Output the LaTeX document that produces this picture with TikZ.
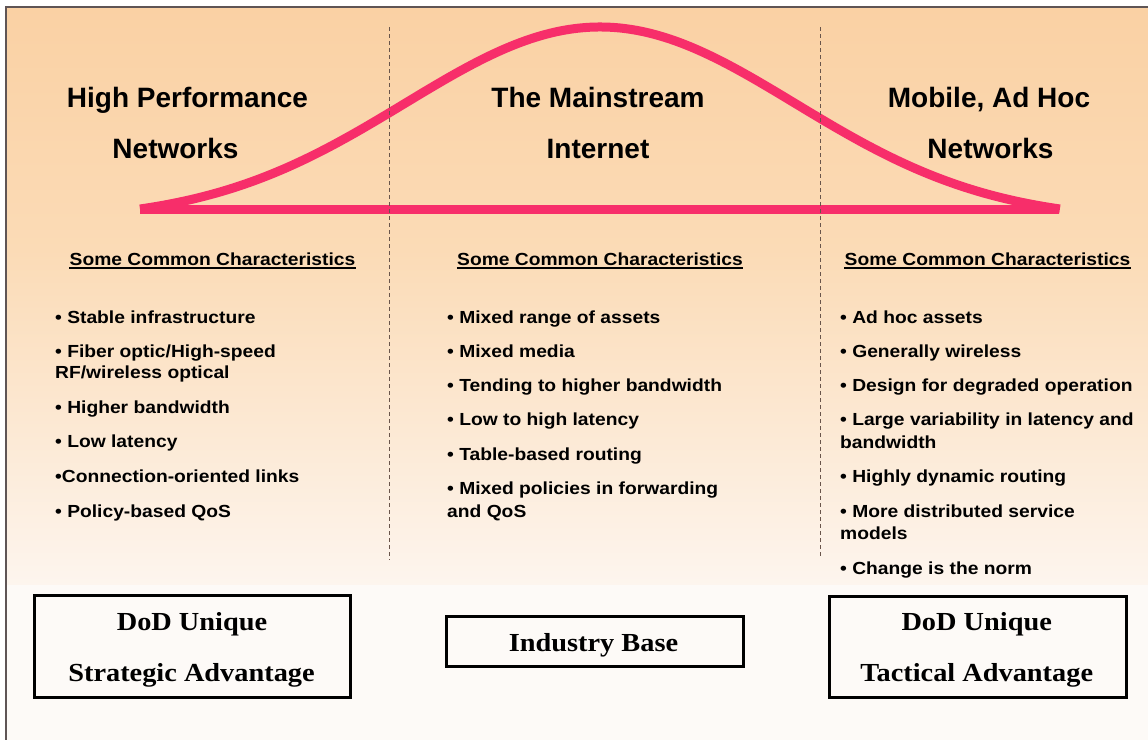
\documentclass[tikz,border=0pt]{standalone}
\usepackage{fontspec}
\setmainfont{Liberation Sans}
\newfontfamily\titlefont{Liberation Sans Bold}
\newfontfamily\bodyfont{Liberation Sans Bold}[FakeStretch=1.1]
\newfontfamily\boxfont{Liberation Serif Bold}[FakeStretch=1.09]
\definecolor{bellred}{RGB}{247,46,106}
\definecolor{bgtop}{RGB}{250,209,164}
\definecolor{bgmid}{RGB}{251,219,182}
\definecolor{bgbot}{RGB}{253,245,238}
\definecolor{bglow}{RGB}{253,250,247}
\definecolor{framec}{RGB}{95,85,85}
\definecolor{dashc}{RGB}{105,85,75}
\begin{document}
\begin{tikzpicture}[x=1pt,y=-1pt,
  titletext/.style={font=\titlefont\fontsize{28}{30}\selectfont, inner sep=0pt, anchor=base},
  headtext/.style={font=\bodyfont\fontsize{17.5}{20}\selectfont, inner sep=0pt, anchor=base},
  itemtext/.style={font=\bodyfont\fontsize{17.5}{20}\selectfont, inner sep=0pt, anchor=base west},
  boxtext/.style={font=\boxfont\fontsize{26}{28}\selectfont, inner sep=0pt, anchor=base},
  boxframe/.style={draw=black, line width=3pt, rectangle, inner sep=0pt},
  bell/.style={draw=bellred, line width=9pt, line cap=butt, line join=round},
  divider/.style={draw=dashc, line width=1pt, dash pattern=on 4pt off 3pt},
  underl/.style={draw=black, line width=1.6pt}
]
\useasboundingbox (0,0) rectangle (1148,740);
\fill[white] (0,0) rectangle (1148,740);
% background
\shade[top color=bgtop, bottom color=bgmid] (6,7) rectangle (1148,250);
\shade[top color=bgmid, bottom color=bgbot] (6,250) rectangle (1148,585);
\fill[bglow] (6,585) rectangle (1148,740);
\draw[framec, line width=2pt] (1148,7) -- (6,7) -- (6,740);

% bell curve
\coordinate (bl) at (140,209);
\coordinate (br) at (1059,209);
\draw[bell] plot[domain=-4.6:4.6, samples=140, smooth] ({600+100*\x},{209-194*(exp(-\x*\x/7.605)-0.0619)});
\draw[bell] (bl) -- (br);

% dividers
\coordinate (d1t) at (389,27);
\coordinate (d1b) at (389,560);
\coordinate (d2t) at (820,27);
\coordinate (d2b) at (820,558);
\draw[divider] (d1t) -- (d1b);
\draw[divider] (d2t) -- (d2b);

% titles
\node[titletext] (t1a) at (187.5,107) {High Performance};
\node[titletext] (t1b) at (175.5,158) {Networks};
\node[titletext] (t2a) at (598,107) {The Mainstream};
\node[titletext] (t2b) at (598,158) {Internet};
\node[titletext] (t3a) at (989,107) {Mobile, Ad Hoc};
\node[titletext] (t3b) at (990.5,158) {Networks};

% headers
\node[headtext] (h1) at (212.5,265) {Some Common Characteristics};
\node[headtext] (h2) at (600,265) {Some Common Characteristics};
\node[headtext] (h3) at (987.5,265) {Some Common Characteristics};
\foreach \h in {h1,h2,h3}{
  \draw[underl] ([yshift=-3pt]\h.base west) -- ([yshift=-3pt]\h.base east);
}

% left column
\node[itemtext] (a1) at (55,323) {• Stable infrastructure};
\node[itemtext] (a2) at (55,357) {• Fiber optic/High-speed};
\node[itemtext] (a2b) at (55,378.5) {RF/wireless optical};
\node[itemtext] (a3) at (55,413) {• Higher bandwidth};
\node[itemtext] (a4) at (55,447) {• Low latency};
\node[itemtext] (a5) at (55,482) {•Connection-oriented links};
\node[itemtext] (a6) at (55,517) {• Policy-based QoS};

% middle column
\node[itemtext] (m1) at (447,323) {• Mixed range of assets};
\node[itemtext] (m2) at (447,357) {• Mixed media};
\node[itemtext] (m3) at (447,391) {• Tending to higher bandwidth};
\node[itemtext] (m4) at (447,425) {• Low to high latency};
\node[itemtext] (m5) at (447,460) {• Table-based routing};
\node[itemtext] (m6) at (447,494) {• Mixed policies in forwarding};
\node[itemtext] (m6b) at (447,517) {and QoS};

% right column
\node[itemtext] (r1) at (840,323) {• Ad hoc assets};
\node[itemtext] (r2) at (840,357) {• Generally wireless};
\node[itemtext] (r3) at (840,391) {• Design for degraded operation};
\node[itemtext] (r4) at (840,425) {• Large variability in latency and};
\node[itemtext] (r4b) at (840,448) {bandwidth};
\node[itemtext] (r5) at (840,482) {• Highly dynamic routing};
\node[itemtext] (r6) at (840,517) {• More distributed service};
\node[itemtext] (r6b) at (840,539) {models};
\node[itemtext] (r7) at (840,574) {• Change is the norm};

% boxes
\node[boxframe, minimum width=316pt, minimum height=102pt] (b1) at (192.5,646.5) {};
\node[boxframe, minimum width=297pt, minimum height=50pt] (b2) at (595,641.5) {};
\node[boxframe, minimum width=297pt, minimum height=101pt] (b3) at (978,647) {};
\node[boxtext] (b1a) at (192,630) {DoD Unique};
\node[boxtext] (b1b) at (191.5,681) {Strategic Advantage};
\node[boxtext] (b2a) at (593.5,651.5) {Industry Base};
\node[boxtext] (b3a) at (976.7,630) {DoD Unique};
\node[boxtext] (b3b) at (976.7,681) {Tactical Advantage};
\end{tikzpicture}
\end{document}
